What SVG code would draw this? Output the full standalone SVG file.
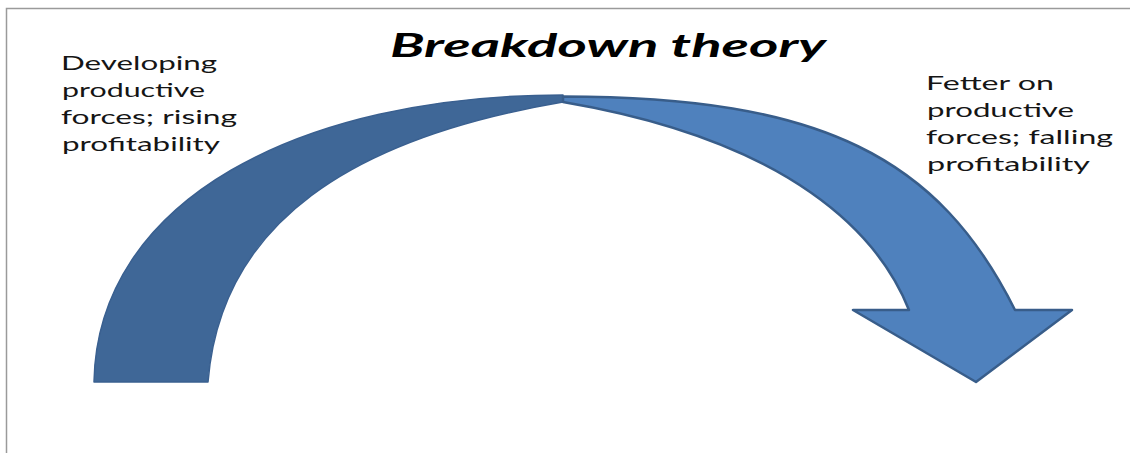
<svg xmlns="http://www.w3.org/2000/svg" width="1130" height="453" viewBox="0 0 1130 453">
  <style>
    .label { font-family: Lato, "Open Sans", "Liberation Sans", sans-serif; font-size: 20px; fill: #151515; }
    .title { font-family: Lato, "Open Sans", "Liberation Sans", sans-serif; font-size: 33px; font-weight: bold; font-style: italic; fill: #000; }
    .back { fill: #3F6797; stroke: #3A6090; stroke-width: 1.5; stroke-linejoin: round; }
    .front { fill: #4F81BD; stroke: #385D8A; stroke-width: 2.5; stroke-linejoin: round; }
  </style>
  <rect x="0" y="0" width="1130" height="453" fill="#ffffff"/>
  <rect id="frame" x="6.5" y="8.5" width="1200" height="500" fill="none" stroke="#9a9a9a" stroke-width="1.5"/>

  <g id="title">
    <text class="title" x="390" y="57" textLength="436" lengthAdjust="spacingAndGlyphs">Breakdown theory</text>
  </g>

  <g id="label-left">
    <text class="label" x="61" y="70" textLength="156" lengthAdjust="spacingAndGlyphs">Developing</text>
    <text class="label" x="62" y="97" textLength="143" lengthAdjust="spacingAndGlyphs">productive</text>
    <text class="label" x="61" y="124" textLength="176" lengthAdjust="spacingAndGlyphs">forces; rising</text>
    <text class="label" x="62" y="151" textLength="158" lengthAdjust="spacingAndGlyphs">profitability</text>
  </g>

  <g id="label-right">
    <text class="label" x="926" y="90" textLength="128" lengthAdjust="spacingAndGlyphs">Fetter on</text>
    <text class="label" x="927" y="117" textLength="147" lengthAdjust="spacingAndGlyphs">productive</text>
    <text class="label" x="926" y="144" textLength="187" lengthAdjust="spacingAndGlyphs">forces; falling</text>
    <text class="label" x="927" y="171" textLength="163" lengthAdjust="spacingAndGlyphs">profitability</text>
  </g>

  <g id="curved-arrow">
    <path id="arrow-back" class="back" d="M94,382 C97,200 300,95 563,95 L563,102 C353,137.7 220.8,222 208,382 Z"/>
    <path id="arrow-front" class="front" d="M563,96.5 C823,96.5 939,158 1015,310 L1072,310 L976,382 L853,310 L909,310 C879.4,235.6 793,141.1 563,102 Z"/>
  </g>
</svg>
